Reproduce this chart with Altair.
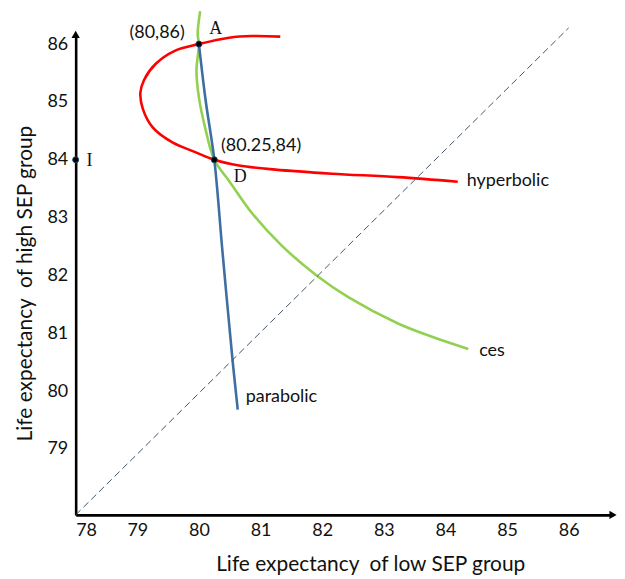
import altair as alt
import pandas as pd

SANS = "Lato"
SERIF = "Liberation Serif"
TXT = "#111111"

X_TICKS = [78, 79, 80, 81, 82, 83, 84, 85, 86]
Y_TICKS = [79, 80, 81, 82, 83, 84, 85, 86]
X_DOMAIN = [78, 86.72]
Y_DOMAIN = [77.86, 86.17]

red_x = [81.32, 80.86, 80.49, 80.0, 79.60, 79.30, 79.11, 79.05, 79.09, 79.25, 79.57, 79.90, 80.25, 80.65, 81.24, 82.16, 83.23, 84.20]
red_y = [86.13, 86.14, 86.11, 86.0, 85.88, 85.66, 85.38, 85.16, 84.88, 84.56, 84.30, 84.15, 84.0, 83.90, 83.83, 83.76, 83.70, 83.62]

green_x = [80.02, 79.98, 80.0, 79.96, 80.0, 80.10, 80.25, 80.49, 80.86, 81.34, 81.91, 82.43, 83.23, 83.77, 84.37]
green_y = [86.57, 86.17, 86.0, 85.54, 85.08, 84.56, 84.0, 83.635, 83.08, 82.52, 82.0, 81.62, 81.17, 80.945, 80.73]

blue_x = [80.0, 80.11, 80.25, 80.38, 80.54, 80.63]
blue_y = [86.0, 85.02, 84.0, 82.44, 80.60, 79.68]

diag_x = [78, 86.0]
diag_y = [77.86, 86.28]

pt_x = [80, 80.25, 78]
pt_y = [86, 84, 84]

xs = alt.Scale(domain=X_DOMAIN, nice=False, zero=False)
ys = alt.Scale(domain=Y_DOMAIN, nice=False, zero=False)

X_AXIS = alt.Axis(
    values=X_TICKS, title="Life expectancy\u00a0 of low SEP group", format="d",
    domainColor="black", domainWidth=2.6, ticks=False, grid=False,
    labelFont=SANS, labelFontSize=18, labelColor=TXT, labelPadding=7,
    titleFont=SANS, titleFontSize=21, titleFontWeight="normal", titleColor=TXT,
    titlePadding=14, titleX=296)
Y_AXIS = alt.Axis(
    values=Y_TICKS, title="Life expectancy\u00a0 of high SEP group", format="d",
    domainColor="black", domainWidth=2.6, ticks=False, grid=False,
    labelFont=SANS, labelFontSize=18, labelColor=TXT, labelPadding=8,
    titleFont=SANS, titleFontSize=21, titleFontWeight="normal", titleColor=TXT,
    titlePadding=12, titleY=250)


def X():
    return alt.X("x:Q", scale=xs, axis=X_AXIS)


def Y():
    return alt.Y("y:Q", scale=ys, axis=Y_AXIS)


rows = []
for name, xv, yv in [("hyperbolic", red_x, red_y), ("ces", green_x, green_y), ("parabolic", blue_x, blue_y)]:
    for i, (a, b) in enumerate(zip(xv, yv)):
        rows.append({"s": name, "i": i, "x": a, "y": b})
curves_df = pd.DataFrame(rows)

curves = alt.Chart(curves_df).mark_line(strokeWidth=2.6, interpolate="catmull-rom").encode(
    x=X(), y=Y(),
    color=alt.Color("s:N", scale=alt.Scale(domain=["hyperbolic", "ces", "parabolic"],
                                           range=["#FF0000", "#92D050", "#3D6FA3"]), legend=None),
    order="i:Q",
    detail="s:N",
)

diag = alt.Chart(pd.DataFrame({"x": diag_x, "y": diag_y})).mark_line(
    strokeWidth=1, strokeDash=[7, 4], color="#44546A").encode(x=X(), y=Y())

points = alt.Chart(pd.DataFrame({"x": pt_x, "y": pt_y})).mark_point(
    filled=True, size=36, color="black", stroke="#1F3F60", strokeWidth=1, opacity=1).encode(x=X(), y=Y())

arrow_up = alt.Chart(pd.DataFrame({"x": [X_DOMAIN[0]], "y": [Y_DOMAIN[1]]})).mark_point(
    shape="triangle-up", filled=True, size=70, color="black", opacity=1).encode(x=X(), y=Y())
arrow_right = alt.Chart(pd.DataFrame({"x": [X_DOMAIN[1]], "y": [Y_DOMAIN[0]]})).mark_point(
    shape="triangle-right", filled=True, size=70, color="black", opacity=1).encode(x=X(), y=Y())


def label(x, y, text, dx, dy, align="left", font=SANS, size=18):
    df = pd.DataFrame({"x": [x], "y": [y], "t": [text]})
    return alt.Chart(df).mark_text(dx=dx, dy=dy, align=align, baseline="middle",
                                   font=font, fontSize=size, color=TXT).encode(
        x=X(), y=Y(), text="t:N")


labels = [
    label(pt_x[0], pt_y[0], "(80,86)", -42, -11, align="center"),
    label(pt_x[0], pt_y[0], "A", 17, -15, align="center", font=SERIF, size=18),
    label(pt_x[1], pt_y[1], "(80.25,84)", 47, -14, align="center"),
    label(pt_x[1], pt_y[1], "D", 26, 17, align="center", font=SERIF, size=18),
    label(pt_x[2], pt_y[2], "I", 14, 1, align="center", font=SERIF, size=18),
    label(red_x[-1], red_y[-1], "hyperbolic", 9, -1),
    label(green_x[-1], green_y[-1], "ces", 11, 2),
    label(blue_x[-1], blue_y[-1], "parabolic", 8, -13),
]

chart = alt.layer(curves, diag, points, arrow_up, arrow_right, *labels).properties(
    width=540, height=483,
    autosize=alt.AutoSizeParams(type="none"),
    padding={"left": 68, "top": 25, "right": 4, "bottom": 63},
    background="white",
).configure_view(stroke=None)

chart.save("out.html", embed_options={"renderer": "svg", "actions": False})
